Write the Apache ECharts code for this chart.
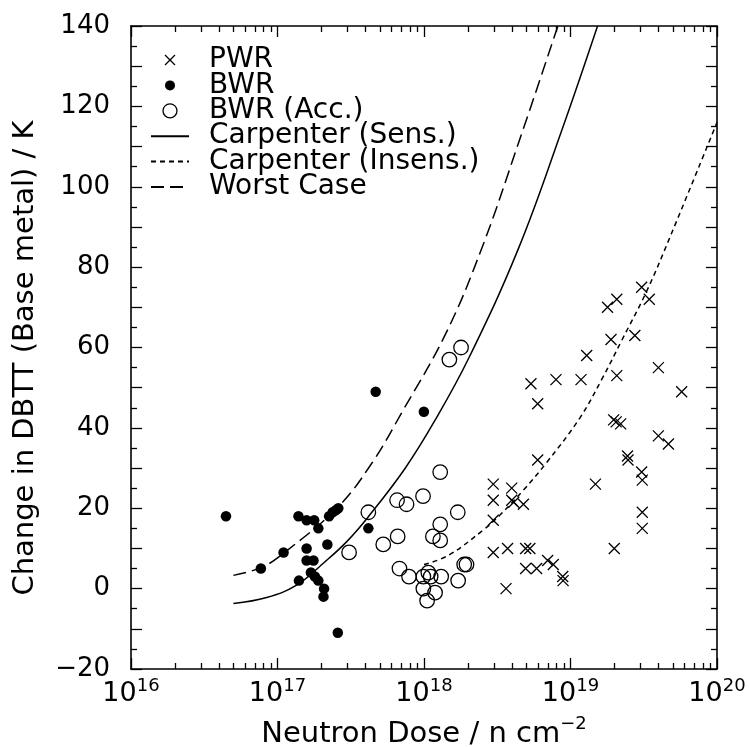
<!DOCTYPE html>
<html><head><meta charset="utf-8">
<script src="https://cdn.jsdelivr.net/npm/echarts@6/dist/echarts.min.js"></script>
<style>html,body{margin:0;padding:0;background:#fff}#c{width:750px;height:747px}</style>
</head><body><div id="c"></div>
<script>
const FONT = '"DejaVu Sans", sans-serif';

// ---- data ----
const xDecades = [1e16, 1e17, 1e18, 1e19, 1e20];
const yTickStep = 10;
const yLabelStep = 20;

const pwr = [
  [3.06e19,75],[3.45e19,72],[2.07e19,72],[1.79e19,70],[1.89e19,62],[2.75e19,63],
  [1.29e19,58],[3.98e19,55],[5.37e18,51],[7.96e18,52],[1.18e19,52],[2.07e19,53],
  [5.74e19,49],[5.97e18,46],[1.97e19,42],[2.05e19,41.5],[2.2e19,41],[3.98e19,38],
  [4.66e19,36],[2.45e19,33],[2.47e19,32],[3.06e19,29],[3.09e19,27],[3.09e19,19],
  [3.09e19,15],[1.48e19,26],[1.99e19,10],[5.97e18,32],[2.97e18,26],[3.97e18,25],
  [2.97e18,22],[3.97e18,22],[4.1e18,21.5],[4.77e18,21],[2.97e18,17],[2.97e18,9],
  [3.72e18,10],[4.94e18,10],[5.28e18,10],[4.94e18,5],[5.87e18,5],[6.98e18,7],
  [7.63e18,6],[8.85e18,3],[8.9e18,2],[3.63e18,0]
];
const bwr = [
  [4.45e16,18],[7.7e16,5],[1.1e17,9],[1.39e17,18],[1.58e17,17],[1.78e17,17],
  [1.9e17,15],[2.25e17,18],[2.38e17,19],[2.5e17,19.5],[2.6e17,20],[2.19e17,11],
  [1.58e17,10],[1.58e17,7],[1.76e17,7],[1.40e17,2],[1.69e17,4],[1.80e17,3],
  [1.9e17,2],[2.08e17,0],[2.06e17,-2],[2.58e17,-11],[4.17e17,15],[4.68e17,49],
  [9.98e17,44]
];
const bwrAcc = [
  [1.79e18,60],[1.49e18,57],[1.29e18,29],[6.55e17,22],[7.6e17,21],[9.85e17,23],
  [4.17e17,19],[1.70e18,19],[1.29e18,16],[1.15e18,13],[1.29e18,12],[6.61e17,13],
  [5.27e17,11],[3.08e17,9],[6.8e17,5],[7.9e17,3],[9.9e17,3],[1.07e18,4],
  [1.11e18,3],[1.31e18,3],[1.71e18,2],[1.88e18,6],[1.95e18,6],[9.9e17,0],
  [1.19e18,-1],[1.05e18,-3]
];
const carpSens = [
  [5e16,-3.7],[8.43e16,-2.2],[1.34e17,0.8],[2.11e17,6.7],[2.97e17,11.7],
  [4.17e17,17.9],[7.42e17,29.9],[1.19e18,41.9],[2.03e18,57.5],[4.41e18,84.6],
  [8.71e18,114],[1.53e19,140]
];
const carpInsens = [
  [1e18,6.0],[1.47e18,8.3],[2.54e18,14.6],[3.30e18,18.3],[4.77e18,24.5],
  [6.88e18,31.4],[1.16e19,42.5],[1.63e19,52],[2.24e19,61.8],[3.31e19,74],
  [4.78e19,87.5],[1e20,116]
];
const worstCase = [
  [5e16,3.3],[7.8e16,5.3],[1.1e17,8.8],[2.6e17,20.4],[4.4e17,31.2],[7.05e17,43.8],
  [1.41e18,63.5],[2.48e18,84.7],[4.41e18,110.8],[8.2e18,140]
];

const black = '#000';
const crossPath = 'path://M0,0L10,10M10,0L0,10';

const axisLineStyle = {show: true, onZero: false, lineStyle: {color: black, width: 1.6}};
function xAxisBase(pos) {
  return {type: 'log', logBase: 10, min: xDecades[0], max: xDecades[xDecades.length - 1], position: pos,
    splitLine: {show: false}, minorSplitLine: {show: false}, axisLine: axisLineStyle,
    axisTick: {show: true, inside: true, length: 11, lineStyle: {color: black, width: 1.3}},
    minorTick: {show: true, splitNumber: 9, length: 6, lineStyle: {color: black, width: 1.3}},
    axisLabel: {show: false}};
}
const xMain = xAxisBase('bottom');
xMain.axisLabel = {
  show: true, margin: 8, color: black,
  formatter: v => '{b|10}{s|' + Math.round(Math.log10(v)) + '}',
  rich: {
    b: {fontFamily: FONT, fontSize: 27, color: black, lineHeight: 30, verticalAlign: 'bottom'},
    s: {fontFamily: FONT, fontSize: 18, color: black, lineHeight: 15, verticalAlign: 'top'}
  }
};
xMain.name = '{b|Neutron Dose / n cm}{s|\u22122}';
xMain.nameLocation = 'middle';
xMain.nameGap = 46;
xMain.nameTextStyle = {
  rich: {
    b: {fontFamily: FONT, fontSize: 29, color: black, lineHeight: 34, verticalAlign: 'bottom'},
    s: {fontFamily: FONT, fontSize: 18, color: black, lineHeight: 12, verticalAlign: 'top'}
  }
};

function yAxisBase(pos, labels) {
  return {type: 'value', min: -20, max: 140, interval: yTickStep, position: pos,
    splitLine: {show: false}, axisLine: axisLineStyle,
    axisTick: {show: true, inside: true, length: 11, lineStyle: {color: black, width: 1.3}},
    minorTick: {show: true, splitNumber: 2, length: 6, lineStyle: {color: black, width: 1.3}},
    minorSplitLine: {show: false},
    axisLabel: labels ? {show: true, margin: 21, color: black, fontFamily: FONT, fontSize: 26,
      formatter: v => (v % yLabelStep === 0) ? (v < 0 ? '\u2212' + (-v) : String(v)) : ''} : {show: false}};
}

const hiddenSym = {color: 'transparent', borderWidth: 0, opacity: 0};

const option = {
  animation: false,
  backgroundColor: '#fff',
  grid: {left: 131, right: 33, top: 26, bottom: 78, containLabel: false, outerBoundsMode: 'none'},
  xAxis: [xMain, xAxisBase('top')],
  yAxis: [yAxisBase('left', true), yAxisBase('right', false)],
  legend: {
    orient: 'vertical', left: 150, top: 46, padding: 0,
    itemWidth: 38, itemHeight: 14, itemGap: -2.6,
    textStyle: {fontFamily: FONT, fontSize: 28, lineHeight: 26, color: black, padding: [0, 0, 0, 15]},
    data: [
      {name: 'PWR', icon: 'path://M0,0M14,14M2,2L12,12M12,2L2,12',
        itemStyle: {color: 'transparent', borderColor: black, borderWidth: 1.3, opacity: 1}},
      {name: 'BWR', icon: 'path://M0,0M14,14M2,7A5,5,0,1,1,12,7A5,5,0,1,1,2,7Z',
        itemStyle: {color: black, borderWidth: 0, opacity: 1}},
      {name: 'BWR (Acc.)', icon: 'circle',
        itemStyle: {color: 'transparent', borderColor: black, borderWidth: 1.3, opacity: 1}},
      {name: 'Carpenter (Sens.)', itemStyle: hiddenSym},
      {name: 'Carpenter (Insens.)', itemStyle: hiddenSym},
      {name: 'Worst Case', itemStyle: hiddenSym}
    ]
  },
  graphic: [{
    type: 'text', x: 25, y: 358, rotation: Math.PI / 2,
    style: {text: 'Change in DBTT (Base metal) / K', font: '29px "DejaVu Sans", sans-serif',
      fill: black, align: 'center', verticalAlign: 'middle'}
  }],
  series: [
    {name: 'PWR', type: 'scatter', data: pwr, symbol: crossPath, symbolSize: 11, z: 5,
      itemStyle: {color: 'transparent', borderColor: black, borderWidth: 1.3, opacity: 1}},
    {name: 'BWR', type: 'scatter', data: bwr, symbol: 'circle', symbolSize: 10.5, z: 5,
      itemStyle: {color: black, borderWidth: 0, opacity: 1}},
    {name: 'BWR (Acc.)', type: 'scatter', data: bwrAcc, symbol: 'circle', symbolSize: 14.5, z: 5,
      itemStyle: {color: 'transparent', borderColor: black, borderWidth: 1.3, opacity: 1}},
    {name: 'Carpenter (Sens.)', type: 'line', data: carpSens, symbol: 'none', showSymbol: false, smooth: 0.4,
      lineStyle: {color: black, width: 1.5, type: 'solid'}, itemStyle: {color: black}},
    {name: 'Carpenter (Insens.)', type: 'line', data: carpInsens, symbol: 'none', showSymbol: false, smooth: 0.4,
      lineStyle: {color: black, width: 1.5, type: [5, 4]}, itemStyle: {color: black}},
    {name: 'Worst Case', type: 'line', data: worstCase, symbol: 'none', showSymbol: false, smooth: 0.4,
      lineStyle: {color: black, width: 1.5, type: [13, 6]}, itemStyle: {color: black}}
  ]
};
const chart = echarts.init(document.getElementById('c'), null, {renderer: 'canvas'});
chart.setOption(option);
</script></body></html>
